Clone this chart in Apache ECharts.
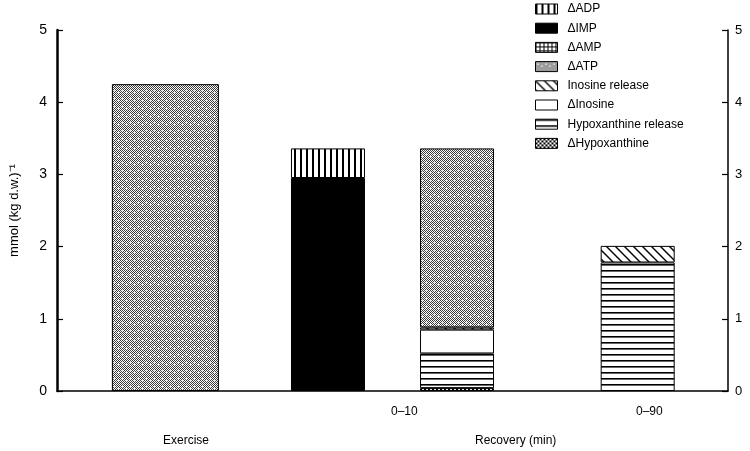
<!DOCTYPE html>
<html><head><meta charset="utf-8">
<script src="https://cdn.jsdelivr.net/npm/echarts@6/dist/echarts.min.js"></script>
<style>html,body{margin:0;padding:0;background:#fff}#c{width:750px;height:451px}</style>
</head><body><div id="c"></div>
<script>
// ---- data ----
const barLabels = ['Exercise', '0–10', '0–10', '0–90'];
const exerciseATP = [4.25];
// recovery bars: [0–10 first bar, 0–10 second bar, 0–90 bar]
const dADP   = [0.41, null, null];
const dIMP   = [2.95, null, null];
const dAMP   = [null, null, null];
const dATP   = [null, 2.48, null];
const inoRel = [null, 0.03, 0.23];
const dIno   = [null, 0.33, null];
const hxRel  = [null, 0.48, 1.78];
const dHx    = [null, 0.04, null];
const yTicks = [0, 1, 2, 3, 4, 5];
const legendNames = ['ΔADP','ΔIMP','ΔAMP','ΔATP','Inosine release','ΔInosine','Hypoxanthine release','ΔHypoxanthine'];

// ---- layout (slot positions on hidden x axes) ----
const exSlot = [4.2];
const nSlots = 26;
const recSlots = [10, 15, 22];

function pat(w, h, draw) {
  const c = document.createElement('canvas');
  c.width = w; c.height = h;
  const g = c.getContext('2d');
  g.fillStyle = '#fff'; g.fillRect(0, 0, w, h);
  g.fillStyle = '#000'; g.strokeStyle = '#000';
  draw(g, w, h);
  return { image: c, repeat: 'repeat' };
}
const P = {
  'ΔADP': pat(6, 6, g => g.fillRect(0, 0, 2, 6)),
  'ΔIMP': '#000',
  'ΔAMP': pat(4, 4, g => { g.fillRect(0, 0, 4, 1); g.fillRect(0, 0, 1, 4); }),
  'ΔATP': pat(8, 8, g => {
    g.fillStyle = '#3a3a3a';
    for (let x = 0; x < 8; x++) for (let y = 0; y < 8; y++) {
      if ((x + y) % 2 === 0) g.fillRect(x, y, 1, 1);
    }
    g.fillStyle = '#d8d8d8';
    g.fillRect(2, 2, 1, 1); g.fillRect(6, 4, 1, 1);
  }),
  'Inosine release': pat(9, 9, g => {
    g.lineWidth = 1.4;
    for (const o of [-9, 0, 9]) { g.beginPath(); g.moveTo(o - 1, -1); g.lineTo(o + 10, 10); g.stroke(); }
  }),
  'ΔInosine': '#fff',
  'Hypoxanthine release': pat(6, 6, g => g.fillRect(0, 0, 6, 1.6)),
  'ΔHypoxanthine': pat(4, 4, g => { g.fillRect(0, 0, 2, 2); g.fillRect(2, 2, 2, 2); g.fillRect(1,1,1,1); })
};

function recData(vals) {
  const out = new Array(nSlots).fill('-');
  vals.forEach((v, i) => { if (v != null) out[recSlots[i]] = v; });
  return out;
}
const itemBase = { borderColor: '#000', borderWidth: 1 };
function recSeries(name, vals) {
  return {
    name, type: 'bar', stack: 'rec', xAxisIndex: 1, yAxisIndex: 0, barWidth: 74,
    data: recData(vals),
    itemStyle: Object.assign({ color: P[name] }, itemBase)
  };
}

const font = "'Liberation Sans', Arial, Helvetica, sans-serif";
const chart = echarts.init(document.getElementById('c'), null, { renderer: 'canvas' });
const yAxisBase = {
  type: 'value', min: yTicks[0], max: yTicks[yTicks.length - 1], interval: 1,
  splitLine: { show: false },
  axisTick: { show: true, inside: true, length: 6, lineStyle: { color: '#000', width: 1.2 } },
  axisLabel: { color: '#000', fontFamily: font, fontSize: 13 }
};
chart.setOption({
  animation: false,
  backgroundColor: '#fff',
  grid: { left: 55, right: 22, top: 30, bottom: 60 },
  legend: {
    data: legendNames.map(n => ({ name: n, icon: 'rect' })), orient: 'vertical', left: 535, top: 3, padding: 0,
    itemWidth: 22, itemHeight: 10, itemGap: 7.2,
    textStyle: { color: '#000', fontFamily: font, fontSize: 12, padding: [0, 0, 0, 5] },
    itemStyle: { borderColor: '#000', borderWidth: 1 },
    selectedMode: false
  },
  xAxis: [
    { type: 'value', min: 0, max: nSlots, show: true, axisLine: { show: true, onZero: true, lineStyle: { color: '#000', width: 1.5 } },
      axisTick: { show: false }, axisLabel: { show: false }, splitLine: { show: false } },
    { type: 'category', data: new Array(nSlots).fill(''), show: false }
  ],
  yAxis: [
    Object.assign({}, yAxisBase, {
      position: 'left', axisLine: { show: true, lineStyle: { color: '#000', width: 2.5 } },
      axisLabel: Object.assign({}, yAxisBase.axisLabel, { margin: 10, fontSize: 14 }),
      name: 'mmol (kg d.w.)⁻¹', nameLocation: 'middle', nameGap: 36, nameRotate: 90,
      nameTextStyle: { color: '#000', fontFamily: font, fontSize: 13 }
    }),
    Object.assign({}, yAxisBase, {
      position: 'right', axisLine: { show: true, lineStyle: { color: '#000', width: 1.5 } },
      axisLabel: Object.assign({}, yAxisBase.axisLabel, { margin: 7 })
    })
  ],
  series: [
    { name: 'ΔATP', type: 'bar', stack: 'ex', xAxisIndex: 0, yAxisIndex: 0, barWidth: 107,
      data: exerciseATP.map((v, i) => [exSlot[i], v]),
      itemStyle: Object.assign({ color: P['ΔATP'] }, itemBase) },
    recSeries('ΔHypoxanthine', dHx),
    recSeries('Hypoxanthine release', hxRel),
    recSeries('ΔInosine', dIno),
    recSeries('Inosine release', inoRel),
    recSeries('ΔATP', dATP),
    recSeries('ΔAMP', dAMP),
    recSeries('ΔIMP', dIMP),
    recSeries('ΔADP', dADP)
  ],
  graphic: [
    { type: 'text', left: 391, top: 406, style: { text: barLabels[1], font: '12px ' + font, fill: '#000', textAlign: 'center' } },
    { type: 'text', left: 636, top: 406, style: { text: barLabels[3], font: '12px ' + font, fill: '#000', textAlign: 'center' } },
    { type: 'text', left: 163, top: 435, style: { text: barLabels[0], font: '12px ' + font, fill: '#000', textAlign: 'center' } },
    { type: 'text', left: 475, top: 435, style: { text: 'Recovery (min)', font: '12px ' + font, fill: '#000', textAlign: 'center' } }
  ]
});
</script></body></html>
